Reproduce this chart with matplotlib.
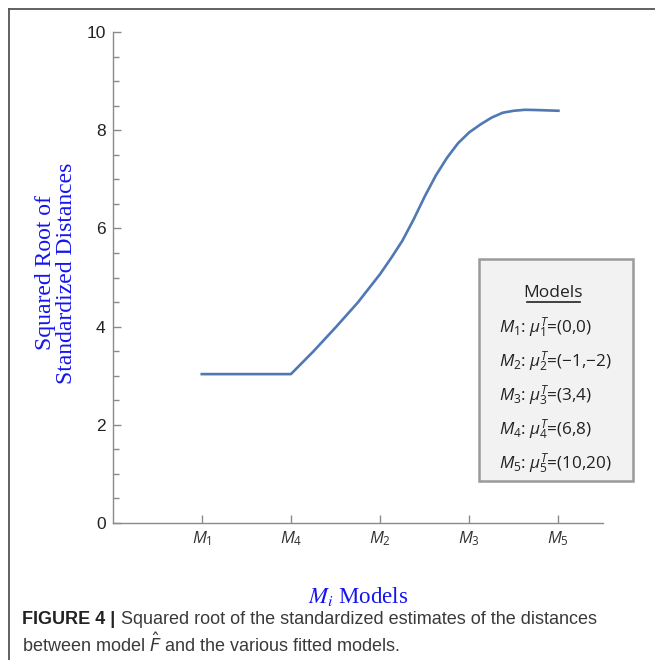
import matplotlib

matplotlib.use("Agg")
import matplotlib.pyplot as plt
from matplotlib.lines import Line2D
from matplotlib.patches import Rectangle
from matplotlib.ticker import MultipleLocator

plt.rcParams["mathtext.fontset"] = "custom"
plt.rcParams["mathtext.rm"] = "Open Sans"
plt.rcParams["mathtext.it"] = "Open Sans:italic"

# model order along the x axis
models = ["$M_1$", "$M_4$", "$M_2$", "$M_3$", "$M_5$"]
model_pos = [1, 2, 3, 4, 5]

# curve (x in model positions)
curve_x = [1, 2, 2.25, 2.5, 2.75, 3, 3.125, 3.25, 3.375, 3.5, 3.625, 3.75, 3.875, 4,
           4.125, 4.25, 4.375, 4.5, 4.625, 4.75, 5]
curve_y = [3.03, 3.03, 3.49, 3.98, 4.49, 5.07, 5.40, 5.75, 6.18, 6.65, 7.08, 7.44, 7.74, 7.96,
           8.12, 8.26, 8.36, 8.40, 8.42, 8.415, 8.40]

legend_title = "Models"
legend_rows = [
    r"$M_1$: $\mu_1^T$=(0,0)",
    r"$M_2$: $\mu_2^T$=(−1,−2)",
    r"$M_3$: $\mu_3^T$=(3,4)",
    r"$M_4$: $\mu_4^T$=(6,8)",
    r"$M_5$: $\mu_5^T$=(10,20)",
]

W, H = 655, 660
fig = plt.figure(figsize=(W / 100, H / 100), dpi=100)
ax = fig.add_axes([112.6 / W, 1 - 522.7 / H, (603 - 112.6) / W, (522.7 - 32.3) / H])

ax.plot(curve_x, curve_y, color="#4f78b4", lw=1.9, solid_joinstyle="round")

ax.set_xlim(0, 5.5)
ax.set_ylim(0, 10)
ax.set_xticks(model_pos)
ax.set_xticklabels(models)
ax.yaxis.set_major_locator(MultipleLocator(2))
ax.yaxis.set_minor_locator(MultipleLocator(0.5))
for s in ("top", "right"):
    ax.spines[s].set_visible(False)
for s in ("left", "bottom"):
    ax.spines[s].set_color("#8a8a8a")
    ax.spines[s].set_linewidth(1.0)
ax.tick_params(axis="both", which="major", direction="in", length=6, width=1,
               color="#8a8a8a", labelcolor="#222222", pad=5)
ax.tick_params(axis="y", which="minor", direction="in", length=4, width=1, color="#8a8a8a")
ax.tick_params(axis="y", labelsize=12.5)
ax.tick_params(axis="x", labelsize=12, labelcolor="#333333")
for t in ax.get_yticklabels():
    t.set_family("Liberation Sans")

# axis titles
fig.text(56 / W, 1 - 273 / H, "Squared Root of\nStandardized Distances", rotation=90,
         ha="center", va="center", multialignment="center", color="#1414f0",
         family="Liberation Serif", fontsize=17, linespacing=1.0)
fig.text(358 / W, 1 - 597 / H, r"$\mathit{M_i}$ Models", ha="center", va="center",
         color="#1414f0", family="Liberation Serif", fontsize=16.5,
         math_fontfamily="stix")

# legend box
fig.add_artist(Rectangle((478.5 / W, 1 - 481 / H), (633 - 478.5) / W, (481 - 259.5) / H,
                         transform=fig.transFigure, facecolor="#f2f2f2",
                         edgecolor="#9a9a9a", lw=1.8))
fig.text(553 / W, 1 - 293 / H, legend_title, ha="center", va="center",
         family="Open Sans", fontsize=12.5, color="#222222")
fig.add_artist(Line2D([526.5 / W, 580 / W], [1 - 302 / H, 1 - 302 / H],
                      transform=fig.transFigure, color="#222222", lw=1.2))
row_y = [328, 362, 396, 430, 464]
for txt, yy in zip(legend_rows, row_y):
    fig.text(499 / W, 1 - yy / H, txt, ha="left", va="center",
             family="Open Sans", fontsize=12.3, color="#222222")

# caption
cap_size = 13.0
bold = fig.text(22.5 / W, 1 - 620 / H, "FIGURE 4 |", ha="left", va="center",
                family="Liberation Sans", fontsize=cap_size, fontweight="bold",
                color="#222222")
fig.canvas.draw()
bb = bold.get_window_extent()
fig.text((bb.x1 + 5) / W, 1 - 620 / H,
         "Squared root of the standardized estimates of the distances",
         ha="left", va="center", family="Liberation Sans", fontsize=cap_size,
         color="#3a3a3a")
fig.text(22.5 / W, 1 - 644 / H, r"between model $\hat{F}$ and the various fitted models.",
         ha="left", va="center", family="Liberation Sans", fontsize=cap_size,
         color="#3a3a3a", math_fontfamily="dejavusans")

# page frame
fig.add_artist(Line2D([8.5 / W, 8.5 / W], [0, 1 - 8.5 / H], transform=fig.transFigure,
                      color="#555555", lw=1.3))
fig.add_artist(Line2D([8.5 / W, 1], [1 - 8.5 / H, 1 - 8.5 / H], transform=fig.transFigure,
                      color="#555555", lw=1.3))

fig.savefig("out.png", dpi=100)
